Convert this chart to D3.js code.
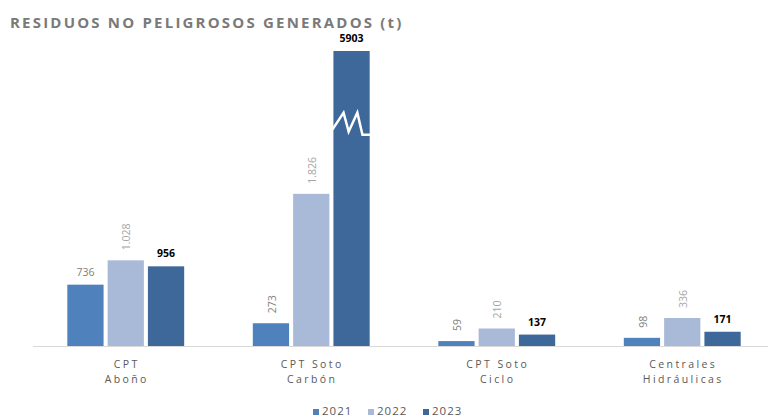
<!DOCTYPE html>
<html>
<head>
<meta charset="utf-8">
<style>
body { margin: 0; background: #fff; }
svg { display: block; font-family: "Open Sans", "Liberation Sans", Arial, sans-serif; }
</style>
<script src="https://cdnjs.cloudflare.com/ajax/libs/d3/7.8.5/d3.min.js"></script>
</head>
<body>
<div id="chart"></div>
<script>
// data
const categories = [["CPT", "Abo\u00f1o"], ["CPT Soto", "Carb\u00f3n"], ["CPT Soto", "Ciclo"], ["Centrales", "Hidr\u00e1ulicas"]];
const years = ["2021", "2022", "2023"];
const values2021 = [736, 273, 59, 98];
const values2022 = [1028, 1826, 210, 336];
const values2023 = [956, 5903, 137, 171];
const seriesValues = [values2021, values2022, values2023];
// bars above this value are drawn cut, with a break mark
const axisCap = 3540;
const breakValue = 2680;

const width = 768, height = 418;
const colors = ["#4f81bd", "#a9bad8", "#3e6899"];
const labelColors = ["#808080", "#a6a6a6", "#000000"];

const svg = d3.select("#chart").append("svg")
    .attr("width", width)
    .attr("height", height);

svg.append("text")
    .attr("x", 10)
    .attr("y", 28)
    .attr("fill", "#7a7a7a")
    .style("font-size", "15px")
    .style("font-weight", "bold")
    .style("letter-spacing", "2.2px")
    .text("RESIDUOS NO PELIGROSOS GENERADOS (t)");

const x0 = d3.scaleBand()
    .domain(d3.range(categories.length))
    .range([33, 775])
    .paddingInner(0.37)
    .paddingOuter(0.185);

const x1 = d3.scaleBand()
    .domain(years)
    .range([0, x0.bandwidth()])
    .paddingInner(0.1);

const y = d3.scaleLinear()
    .domain([0, axisCap])
    .range([346, 51]);

const rows = [];
categories.forEach((c, i) => {
    years.forEach((yr, s) => {
        rows.push({ cat: i, year: yr, s: s, value: seriesValues[s][i] });
    });
});

const dotFmt = d3.formatLocale({ decimal: ",", thousands: ".", grouping: [3], currency: ["", "€"] }).format(",d");
function labelText(d) {
    if (d.s === 1) return dotFmt(d.value);
    return String(d.value);
}
// 2022 labels are always vertical, 2021 vertical except the first group
function isVertical(d) {
    return d.s === 1 || (d.s === 0 && d.cat > 0);
}

const g = svg.append("g");

g.selectAll("rect.bar")
    .data(rows)
    .join("rect")
    .attr("class", "bar")
    .attr("x", d => x0(d.cat) + x1(d.year))
    .attr("y", d => y(Math.min(d.value, axisCap)))
    .attr("width", x1.bandwidth())
    .attr("height", d => y(0) - y(Math.min(d.value, axisCap)))
    .attr("fill", d => colors[d.s]);

// break mark on cut bars
const cut = rows.filter(d => d.value > axisCap);
g.selectAll("path.brk")
    .data(cut)
    .join("path")
    .attr("class", "brk")
    .attr("fill", "none")
    .attr("stroke", "#fff")
    .attr("stroke-width", 2.5)
    .attr("stroke-linejoin", "miter")
    .attr("d", d => {
        const bx = x0(d.cat) + x1(d.year), bw = x1.bandwidth();
        const top = y(breakValue) - 10, bot = y(breakValue) + 9;
        return d3.line()([
            [bx - 1, bot - 2],
            [bx + bw * 0.28, top],
            [bx + bw * 0.42, bot],
            [bx + bw * 0.66, top],
            [bx + bw * 0.8, bot + 3],
            [bx + bw + 1, bot + 3]
        ]);
    });

// value labels
g.selectAll("text.val")
    .data(rows)
    .join("text")
    .attr("class", "val")
    .attr("fill", d => labelColors[d.s])
    .style("font-size", "10.5px")
    .style("font-weight", d => d.s === 2 ? "bold" : "normal")
    .each(function (d) {
        const cx = x0(d.cat) + x1(d.year) + x1.bandwidth() / 2;
        const top = y(Math.min(d.value, axisCap));
        const t = d3.select(this).text(labelText(d));
        if (isVertical(d)) {
            t.attr("transform", `translate(${cx + 1},${top - 10}) rotate(-90)`)
                .attr("dy", "0.35em")
                .attr("text-anchor", "start");
        } else {
            t.attr("x", cx).attr("y", top - 9).attr("text-anchor", "middle");
        }
    });

// baseline
g.append("line")
    .attr("x1", 33).attr("x2", width)
    .attr("y1", y(0) + 0.5).attr("y2", y(0) + 0.5)
    .attr("stroke", "#d9d9d9");

// category labels
const cl = g.selectAll("text.cat")
    .data(categories)
    .join("text")
    .attr("class", "cat")
    .attr("fill", "#595959")
    .attr("text-anchor", "middle")
    .style("font-size", "10.5px")
    .style("letter-spacing", "2.4px");
cl.selectAll("tspan")
    .data((d, i) => d.map(line => ({ line, i })))
    .join("tspan")
    .attr("x", d => x0(d.i) + x0.bandwidth() / 2 + 1)
    .attr("y", (d, j) => 368 + j * 15)
    .text(d => d.line);

// legend
const legend = svg.append("g").attr("transform", "translate(313,0)");
const li = legend.selectAll("g")
    .data(years)
    .join("g")
    .attr("transform", (d, i) => `translate(${i * 55},0)`);
li.append("rect")
    .attr("x", 0).attr("y", 409)
    .attr("width", 6).attr("height", 6)
    .attr("fill", (d, i) => colors[i]);
li.append("text")
    .attr("x", 9).attr("y", 415)
    .attr("fill", "#595959")
    .style("font-size", "11.5px")
    .style("letter-spacing", "1px")
    .text(d => d);
</script>
</body>
</html>
